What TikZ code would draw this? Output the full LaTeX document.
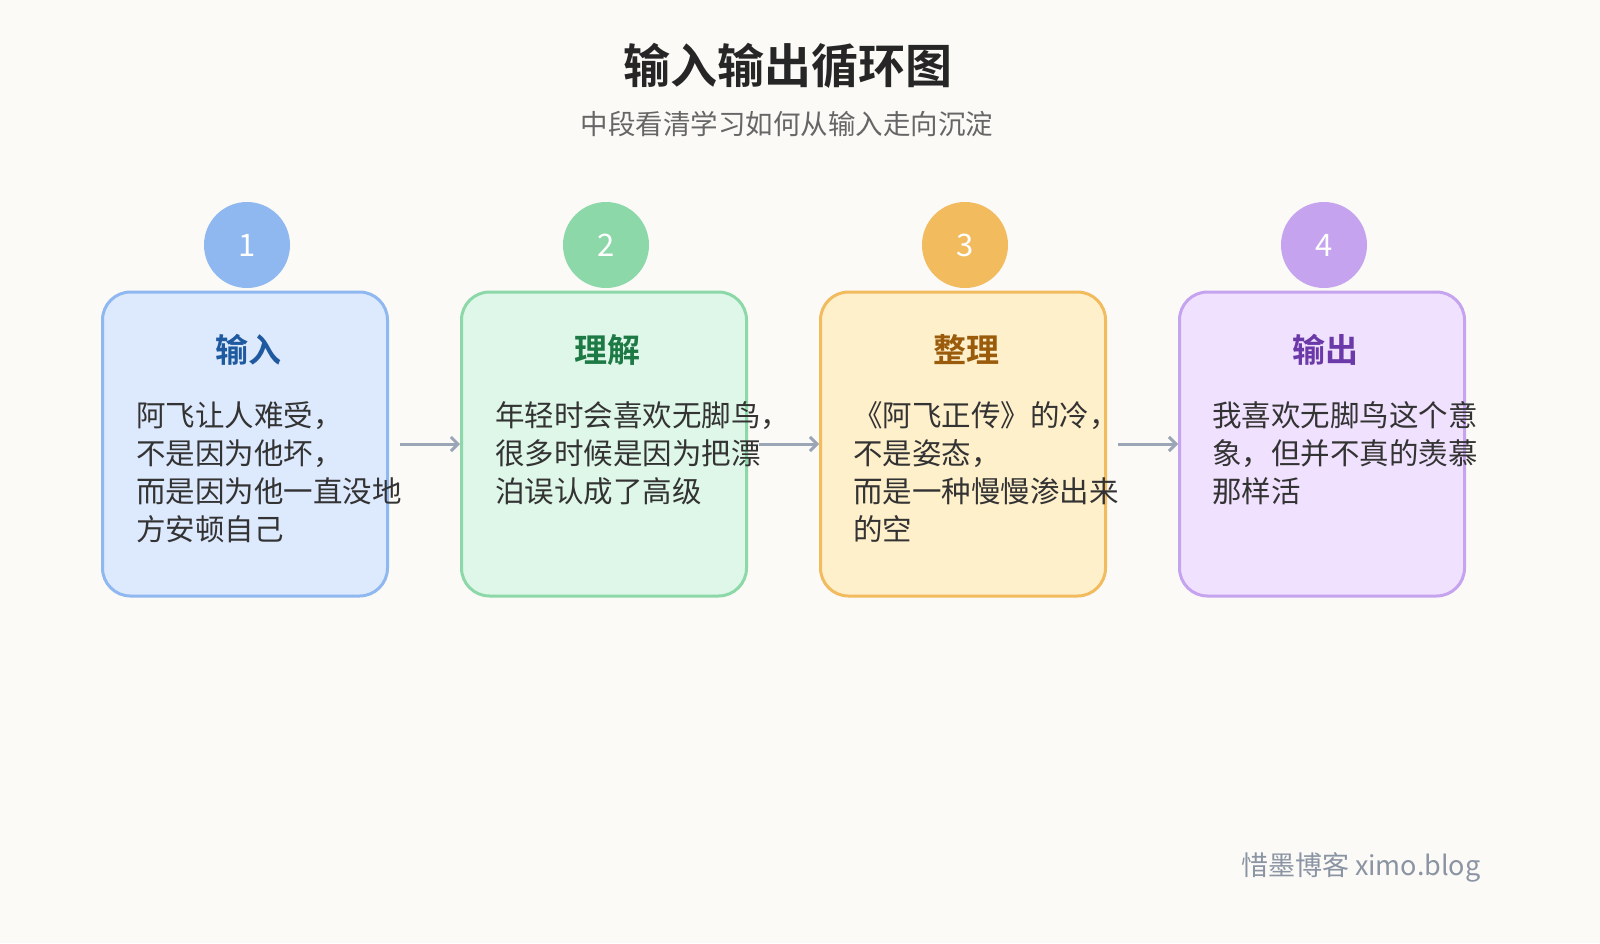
\documentclass[tikz,border=0pt]{standalone}
\usepackage{fontspec}
\setmainfont{Noto Sans CJK SC}
\newfontfamily\cjkb{Noto Sans CJK SC Bold}
\usetikzlibrary{arrows.meta}
\definecolor{bg}{HTML}{FBFAF7}
\definecolor{cA}{HTML}{8FB8F0}\definecolor{fA}{HTML}{DDE9FD}\definecolor{tA}{HTML}{1F5AA0}
\definecolor{cB}{HTML}{8CD8A8}\definecolor{fB}{HTML}{DFF7E9}\definecolor{tB}{HTML}{1E7A45}
\definecolor{cC}{HTML}{F2BB5E}\definecolor{fC}{HTML}{FFF0CC}\definecolor{tC}{HTML}{9A5B0A}
\definecolor{cD}{HTML}{C5A3EE}\definecolor{fD}{HTML}{F0E2FE}\definecolor{tD}{HTML}{6B3AA8}
\definecolor{arr}{HTML}{9AA5B5}
\tikzset{
 card/.style={draw=#1,line width=3pt,rounded corners=28pt,minimum width=285pt,minimum height=304pt,inner sep=0pt},
 badge/.style={circle,fill=#1,minimum size=86pt,inner sep=0pt,text=white,font=\fontsize{31}{31}\selectfont},
 head/.style={text=#1,font=\cjkb\fontsize{33}{33}\selectfont},
 body/.style={anchor=north west,align=left,text=black!80,font=\fontsize{29.5}{38}\selectfont,inner sep=0pt},
 flow/.style={draw=arr,line width=3pt,-{Straight Barb[length=7pt,width=14pt]},shorten <=11pt}
}
\begin{document}
\begin{tikzpicture}[x=1pt,y=-1pt]
\fill[bg] (0,0) rectangle (1600,943);
\useasboundingbox (0,0) rectangle (1600,943);
\node (title) at (788,66) {\cjkb\fontsize{47}{47}\selectfont\color{black!85}输入输出循环图};
\node (sub) at (787,124) {\fontsize{27.5}{27.5}\selectfont\color{black!60}中段看清学习如何从输入走向沉淀};
\foreach \i/\x/\c/\f/\t/\h in {1/245/A/A/A/输入,2/604/B/B/B/理解,3/963/C/C/C/整理,4/1322/D/D/D/输出}{
 \node[card=c\c,fill=f\f] (b\i) at (\x,444) {};
 \node[badge=c\c] (n\i) at (\x+2,245) {\i};
 \node[head=t\t] (h\i) at (\x+3,350) {\h};
}
\node[body] (t1) at (136,401) {阿飞让人难受，\\不是因为他坏，\\而是因为他一直没地\\方安顿自己};
\node[body] (t2) at (495,401) {年轻时会喜欢无脚鸟，\\很多时候是因为把漂\\泊误认成了高级};
\node[body] (t3) at (853,401) {《阿飞正传》的冷，\\不是姿态，\\而是一种慢慢渗出来\\的空};
\node[body] (t4) at (1212,401) {我喜欢无脚鸟这个意\\象，但并不真的羡慕\\那样活};
\draw[flow] (b1.east) -- (b2.west);
\draw[flow] (b2.east) -- (b3.west);
\draw[flow] (b3.east) -- (b4.west);
\node[anchor=east,text=arr!90!black,font=\fontsize{27}{27}\selectfont] (wm) at (1484,867) {惜墨博客 ximo.blog};
\end{tikzpicture}
\end{document}
